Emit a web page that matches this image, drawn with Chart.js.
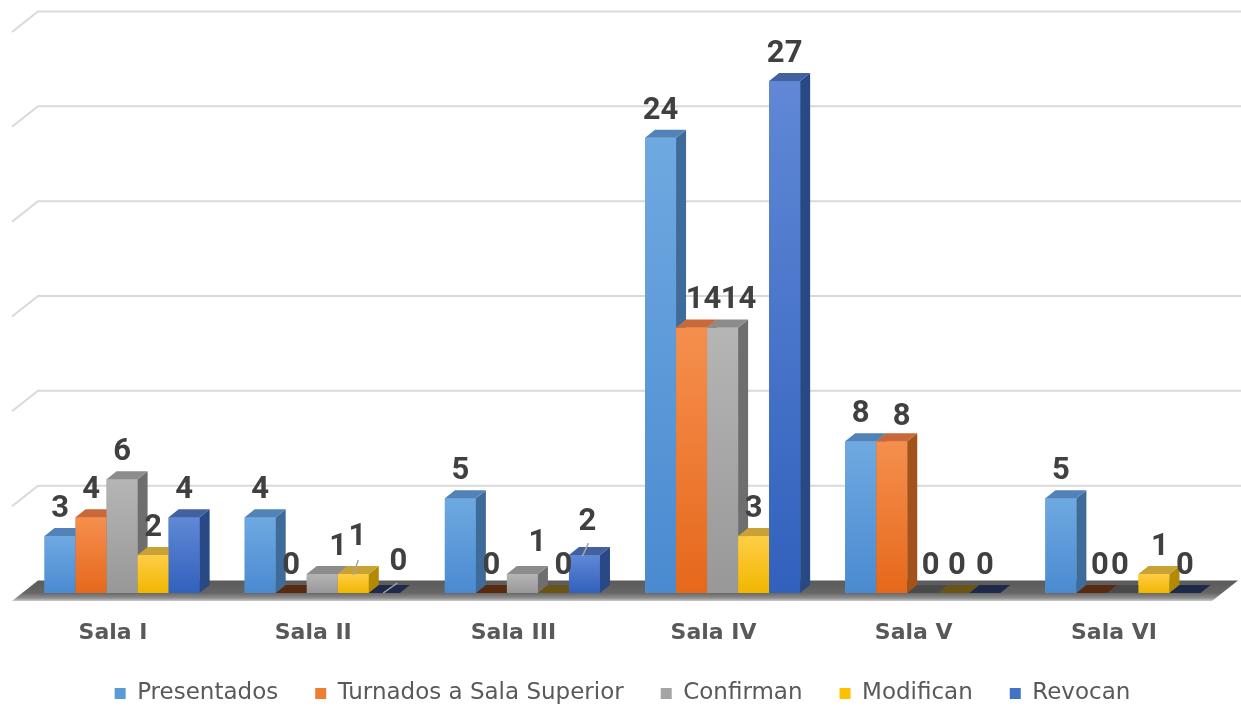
<!DOCTYPE html>
<html><head><meta charset="utf-8">
<script src="https://cdn.jsdelivr.net/npm/chart.js@4.4.1/dist/chart.umd.min.js"></script>
<style>html,body{margin:0;padding:0;background:#fff;}#wrap{width:1241px;height:710px;position:relative;}</style>
</head><body><div id="wrap"><canvas id="c"></canvas></div>
<script>
// ---- data ----
const categories = ['Sala I', 'Sala II', 'Sala III', 'Sala IV', 'Sala V', 'Sala VI'];
const seriesNames = ['Presentados', 'Turnados a Sala Superior', 'Confirman', 'Modifican', 'Revocan'];
const presentados = [3, 4, 5, 24, 8, 5];
const turnados    = [4, 0, 0, 14, 8, 0];
const confirman   = [6, 1, 1, 14, 0, 0];
const modifican   = [2, 1, 0, 3, 0, 1];
const revocan     = [4, 0, 2, 27, 0, 0];
const yTicks = [0, 5, 10, 15, 20, 25, 30];

// ---- styles ----
const palette = [
  {front: ['#6FA9E1', '#4A8AD0'], side: '#3F6B9A', top: '#5283B8', zero: '#27415e', flat: '#5B9BD5'},
  {front: ['#F58F4E', '#E6681B'], side: '#A3521B', top: '#C9693A', zero: '#5a2a10', flat: '#ED7D31'},
  {front: ['#B5B5B5', '#989898'], side: '#6E6E6E', top: '#8C8C8C', zero: '#4a4a4a', flat: '#A5A5A5'},
  {front: ['#FFCE47', '#F2B600'], side: '#B38900', top: '#C9A236', zero: '#6b5514', flat: '#FFC000'},
  {front: ['#6088D5', '#3161BD'], side: '#284886', top: '#43619F', zero: '#1d2a4a', flat: '#4472C4'}
];
const DX = 10, DY = 8;            // bar depth
const BACK_DX = 16, BACK_DY = 12.5; // bar front plane -> back wall
const FRONT_DX = 10, FRONT_DY = 8;  // bar front plane -> floor front edge
const LABEL_RISE = 27;
// label nudges "dataset,index": [dx, dy]
const nudges = {
  '2,1': [16, 0], '3,1': [4, -10], '4,1': [14, -4],
  '2,2': [15, -4], '3,2': [10, 0], '4,2': [3, -6],
  '1,3': [12, 0], '2,3': [16, 0],
  '1,4': [10, 3], '2,4': [8, 0], '3,4': [3, 0],
  '1,5': [8, 0], '2,5': [-3, 0], '3,5': [6, 0]
};
// leader lines "dataset,index": [[x0,y0],[x1,y1]] relative to bar top centre
const leaders = {
  '3,1': [[0, 1], [5, -14]],
  '4,1': [[-1, 0], [13, -10]],
  '4,2': [[-2, 1], [4, -12]]
};

const seriesData = [presentados, turnados, confirman, modifican, revocan];

const threeD = {
  id: 'threeD',
  beforeDatasetsDraw(chart) {
    const {ctx, chartArea: {left, right}, scales: {y}} = chart;
    const base = y.getPixelForValue(0);
    ctx.save();
    ctx.strokeStyle = '#d9d9d9';
    ctx.lineWidth = 2;
    yTicks.forEach(v => {
      if (v === 0) return;
      const yy = y.getPixelForValue(v);
      ctx.beginPath();
      ctx.moveTo(left - FRONT_DX, yy + FRONT_DY);
      ctx.lineTo(left + BACK_DX, yy - BACK_DY);
      ctx.lineTo(right + 18, yy - BACK_DY);
      ctx.stroke();
    });
    // floor
    const g = ctx.createLinearGradient(0, base - BACK_DY, 0, base + FRONT_DY + 2);
    g.addColorStop(0, '#5a5a5a');
    g.addColorStop(0.55, '#666666');
    g.addColorStop(0.78, '#8e8e8e');
    g.addColorStop(0.92, '#cfcfcf');
    g.addColorStop(1, '#f2f2f2');
    ctx.fillStyle = g;
    ctx.beginPath();
    ctx.moveTo(left - FRONT_DX, base + FRONT_DY);
    ctx.lineTo(left + BACK_DX, base - BACK_DY);
    ctx.lineTo(right + 15, base - BACK_DY);
    ctx.lineTo(right - 11, base + FRONT_DY);
    ctx.closePath();
    ctx.fill();
    ctx.restore();
  },
  afterDatasetsDraw(chart) {
    const {ctx} = chart;
    ctx.save();
    for (let i = 0; i < categories.length; i++) {
      for (let d = 0; d < seriesData.length; d++) {
        const el = chart.getDatasetMeta(d).data[i];
        const p = el.getProps(['x', 'y', 'base', 'width'], true);
        const L = p.x - p.width / 2, R = p.x + p.width / 2;
        const top = Math.min(p.y, p.base), base = p.base;
        const c = palette[d];
        const v = seriesData[d][i];
        if (v > 0) {
          const g = ctx.createLinearGradient(0, top, 0, base);
          g.addColorStop(0, c.front[0]);
          g.addColorStop(1, c.front[1]);
          ctx.fillStyle = g;
          ctx.fillRect(L, top, R - L, base - top);
          ctx.fillStyle = c.side;
          ctx.beginPath();
          ctx.moveTo(R, top); ctx.lineTo(R + DX, top - DY);
          ctx.lineTo(R + DX, base - DY); ctx.lineTo(R, base);
          ctx.closePath(); ctx.fill();
          ctx.fillStyle = c.top;
        } else {
          ctx.fillStyle = c.zero;
        }
        ctx.beginPath();
        ctx.moveTo(L, top); ctx.lineTo(R, top);
        ctx.lineTo(R + DX, top - DY); ctx.lineTo(L + DX, top - DY);
        ctx.closePath(); ctx.fill();
      }
    }
    // labels
    ctx.font = 'bold 31px Roboto';
    ctx.fillStyle = '#404040';
    ctx.textAlign = 'center';
    ctx.textBaseline = 'middle';
    for (let d = 0; d < seriesData.length; d++) {
      const meta = chart.getDatasetMeta(d);
      meta.data.forEach((el, i) => {
        const key = d + ',' + i;
        const n = nudges[key] || [0, 0];
        const p = el.getProps(['x', 'y'], true);
        if (leaders[key]) {
          const [a, b] = leaders[key];
          ctx.save();
          ctx.strokeStyle = '#a6a6a6';
          ctx.lineWidth = 1.5;
          ctx.beginPath();
          ctx.moveTo(p.x + a[0], p.y + a[1]);
          ctx.lineTo(p.x + b[0], p.y + b[1]);
          ctx.stroke();
          ctx.restore();
        }
        ctx.fillText(String(seriesData[d][i]), p.x + n[0], p.y - LABEL_RISE + n[1]);
      });
    }
    ctx.restore();
  }
};

new Chart(document.getElementById('c'), {
  type: 'bar',
  data: {
    labels: categories,
    datasets: seriesNames.map((name, d) => ({
      label: name,
      data: seriesData[d],
      backgroundColor: palette[d].flat,
      borderWidth: 0,
      categoryPercentage: 0.775,
      barPercentage: 1.0
    }))
  },
  options: {
    responsive: true,
    maintainAspectRatio: false,
    animation: false,
    layout: {padding: {left: 22, right: 18, top: 24, bottom: -5}},
    plugins: {
      legend: {
        position: 'bottom',
        labels: {
          font: {family: 'DejaVu Sans', size: 23},
          color: '#595959',
          boxWidth: 11,
          boxHeight: 11,
          padding: 37
        }
      },
      tooltip: {enabled: false}
    },
    scales: {
      x: {
        grid: {display: false, drawTicks: false},
        border: {display: false},
        ticks: {
          font: {family: 'DejaVu Sans', size: 22, weight: 'bold'},
          color: '#595959',
          padding: 27,
          labelOffset: -9,
          maxRotation: 0,
          autoSkip: false
        },
        afterFit(scale) { scale.height = 52; }
      },
      y: {
        display: false,
        min: 0,
        max: 30,
        ticks: {stepSize: 5}
      }
    }
  },
  plugins: [threeD]
});
</script>
</body></html>
